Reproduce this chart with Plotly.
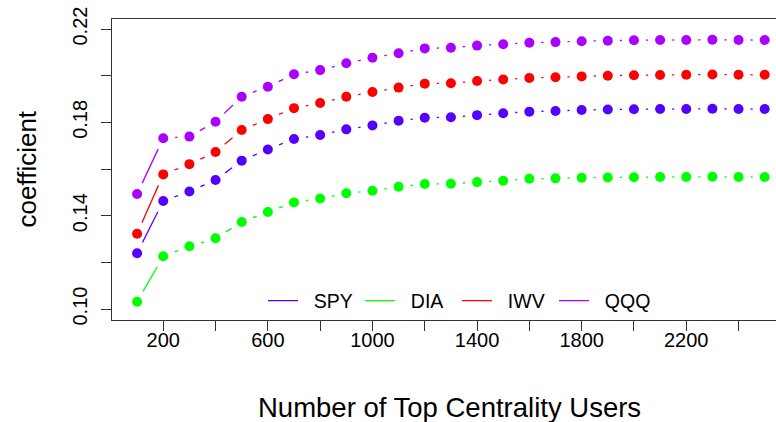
import math
import plotly.graph_objects as go

# ---- data ----
users = [100, 200, 300, 400, 500, 600, 700, 800, 900, 1000, 1100, 1200, 1300,
         1400, 1500, 1600, 1700, 1800, 1900, 2000, 2100, 2200, 2300, 2400, 2500]
spy = [0.1239, 0.1463, 0.1504, 0.1553, 0.1636, 0.1684, 0.1729, 0.1746, 0.1770,
       0.1787, 0.1807, 0.1820, 0.1822, 0.1831, 0.1839, 0.1846, 0.1849, 0.1853,
       0.1855, 0.1856, 0.1857, 0.1857, 0.1858, 0.1857, 0.1857]
dia = [0.1031, 0.1226, 0.1269, 0.1303, 0.1373, 0.1416, 0.1457, 0.1474, 0.1496,
       0.1507, 0.1524, 0.1536, 0.1537, 0.1544, 0.1550, 0.1558, 0.1560, 0.1563,
       0.1564, 0.1565, 0.1566, 0.1566, 0.1567, 0.1566, 0.1566]
iwv = [0.1323, 0.1577, 0.1621, 0.1673, 0.1767, 0.1814, 0.1861, 0.1883, 0.1910,
       0.1930, 0.1949, 0.1966, 0.1968, 0.1977, 0.1984, 0.1990, 0.1993, 0.1997,
       0.2000, 0.2002, 0.2003, 0.2004, 0.2005, 0.2004, 0.2004]
qqq = [0.1493, 0.1732, 0.1739, 0.1803, 0.1910, 0.1953, 0.2006, 0.2024, 0.2053,
       0.2077, 0.2096, 0.2117, 0.2120, 0.2129, 0.2135, 0.2141, 0.2144, 0.2148,
       0.2150, 0.2152, 0.2153, 0.2153, 0.2154, 0.2153, 0.2153]
series_names = ["SPY", "DIA", "IWV", "QQQ"]
series_vals = [spy, dia, iwv, qqq]
colors = ["#5500FF", "#00FF00", "#FF0000", "#AA00FF"]

x_ticks = [200, 400, 600, 800, 1000, 1200, 1400, 1600, 1800, 2000, 2200, 2400]
x_labels = ["200", "", "600", "", "1000", "", "1400", "", "1800", "", "2200", ""]
y_ticks = [0.10, 0.12, 0.14, 0.16, 0.18, 0.20, 0.22]
y_labels = ["0.10", "", "0.14", "", "0.18", "", "0.22"]

# ---- layout geometry ----
W, H = 776, 422
ML, MR, MT, MB = 112, 0, 19, 102
PW, PH = W - ML - MR, H - MT - MB
xr = [4, 4 + PW / 0.2615]
yr = [0.0953, 0.2243]
sx = PW / (xr[1] - xr[0])
sy = PH / (yr[1] - yr[0])
GAP = 12.0  # px gap around points (R type="b")

fig = go.Figure()

for name, vals, col in zip(series_names, series_vals, colors):
    lx, ly = [], []
    for i in range(len(users) - 1):
        x0, y0, x1, y1 = users[i], vals[i], users[i + 1], vals[i + 1]
        dxp, dyp = (x1 - x0) * sx, (y1 - y0) * sy
        L = math.hypot(dxp, dyp)
        if L <= 2 * GAP:
            continue
        ux, uy = dxp / L, dyp / L
        lx += [x0 + GAP * ux / sx, x1 - GAP * ux / sx, None]
        ly += [y0 + GAP * uy / sy, y1 - GAP * uy / sy, None]
    fig.add_trace(go.Scatter(x=lx, y=ly, mode="lines",
                             name="\u00a0\u00a0" + name,
                             line=dict(color=col, width=1.3),
                             hoverinfo="skip"))
    fig.add_trace(go.Scatter(x=users, y=vals, mode="markers", showlegend=False,
                             marker=dict(color=col, size=10, line=dict(width=0))))

font = "Liberation Sans, Arial, sans-serif"
fig.update_layout(
    width=W, height=H,
    margin=dict(l=ML, r=MR, t=MT, b=MB, pad=0),
    paper_bgcolor="white", plot_bgcolor="white",
    font=dict(family=font, color="black", size=19),
    showlegend=True,
    legend=dict(orientation="h", x=(267 - ML - 4) / PW, y=0.063, xanchor="left",
                yanchor="middle", bgcolor="rgba(0,0,0,0)",
                font=dict(size=19.5), itemwidth=30, tracegroupgap=0,
                entrywidth=52, entrywidthmode="pixels"),
    xaxis=dict(range=xr, tickvals=x_ticks, ticktext=x_labels,
               ticks="outside", ticklen=10, tickcolor="#333", tickwidth=1.2,
               showgrid=False, zeroline=False, showline=True,
               linecolor="#333", linewidth=1.3, mirror=True,
               tickfont=dict(size=20), ticklabelstandoff=-8),
    yaxis=dict(range=yr, tickvals=y_ticks, ticktext=y_labels,
               ticks="outside", ticklen=10, tickcolor="#333", tickwidth=1.2,
               showgrid=False, zeroline=False, showline=True,
               linecolor="#333", linewidth=1.3, mirror=False,
               tickangle=-90, tickfont=dict(size=20), ticklabelstandoff=6),
    annotations=[
        dict(text="Number of Top Centrality Users", xref="paper", yref="paper",
             x=(449 - ML) / PW, y=-(407 - MT - PH) / PH, xanchor="center",
             yanchor="middle", showarrow=False, font=dict(size=27.5)),
        dict(text="coefficient", xref="paper", yref="paper",
             x=-(ML - 26) / PW, y=0.5, xanchor="center", yanchor="middle",
             textangle=-90, showarrow=False, font=dict(size=26)),
    ],
)

fig.write_html("out.html")
